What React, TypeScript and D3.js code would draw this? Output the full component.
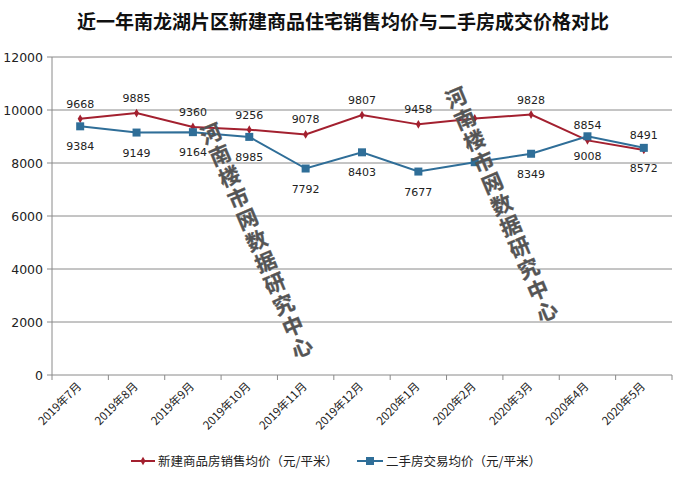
import React from "react";
import * as d3 from "d3";

const categories = ["2019年7月","2019年8月","2019年9月","2019年10月","2019年11月","2019年12月","2020年1月","2020年2月","2020年3月","2020年4月","2020年5月"];
const newHomePrice = [9668, 9885, 9360, 9256, 9078, 9807, 9458, 9680, 9828, 8854, 8491];
const resalePrice = [9384, 9149, 9164, 8985, 7792, 8403, 7677, 8030, 8349, 9008, 8572];
const showLabel = [true, true, true, true, true, true, true, false, true, true, true];
const yTicks = [0, 2000, 4000, 6000, 8000, 10000, 12000];
const seriesNames = ["新建商品房销售均价（元/平米）", "二手房交易均价（元/平米）"];
const titleText = "近一年南龙湖片区新建商品住宅销售均价与二手房成交价格对比";
const watermarkText = "河南楼市网数据研究中心";

const W = 683, H = 480;
const left = 52, right = 672, top = 57, bottom = 375;
const RED = "#A3202F";
const BLUE = "#2F6E98";
const FONT = "'DejaVu Sans', 'Noto Sans CJK SC', sans-serif";
const CJK = "'Noto Sans CJK SC', sans-serif";

export default function App() {
  const x = d3.scaleBand<string>().domain(categories).range([left, right]);
  const y = d3.scaleLinear().domain([0, 12000]).range([bottom, top]);
  const cx = (i: number) => (x(categories[i]) as number) + x.bandwidth() / 2;
  const line = d3.line<number>().x((_, i) => cx(i)).y((d) => y(d));
  const boundaries = d3.range(categories.length + 1).map((i) => left + i * x.bandwidth());
  const diamond = d3.symbol().type(d3.symbolDiamond).size(22)();

  const wm = (x0: number, y0: number) => (
    <text
      x={x0}
      y={y0}
      transform={`rotate(-23 ${x0} ${y0})`}
      style={{ writingMode: "vertical-rl" as any }}
      fontFamily={CJK}
      fontWeight={700}
      fontSize={21}
      fill="#555555"
      stroke="#555555"
      strokeWidth={0.3}
      letterSpacing={2.2}
    >
      {watermarkText}
    </text>
  );

  return (
    <svg width={W} height={H} style={{ position: "absolute", left: 0, top: 0, background: "#fff" }}>
      <text x={343} y={29} textAnchor="middle" fontFamily={CJK} fontWeight={700} fontSize={19} fill="#111">
        {titleText}
      </text>
      {yTicks.map((t) => (
        <g key={t}>
          {t > 0 && <line x1={left} x2={right} y1={y(t)} y2={y(t)} stroke="#8a8a8a" strokeWidth={1} />}
          <line x1={left - 5} x2={left} y1={y(t)} y2={y(t)} stroke="#8a8a8a" />
          <text x={left - 9} y={y(t) + 4.5} textAnchor="end" fontFamily={FONT} fontSize={12.5} fill="#222">
            {t}
          </text>
        </g>
      ))}
      <line x1={left} x2={left} y1={top} y2={bottom} stroke="#8a8a8a" />
      <line x1={left} x2={right} y1={bottom} y2={bottom} stroke="#8a8a8a" />
      {boundaries.map((b, i) => (
        <line key={i} x1={b} x2={b} y1={bottom} y2={bottom + 5} stroke="#8a8a8a" />
      ))}
      {categories.map((c, i) => (
        <text
          key={c}
          x={cx(i) + 2}
          y={bottom + 12}
          transform={`rotate(-45 ${cx(i) + 2} ${bottom + 12})`}
          textAnchor="end"
          fontFamily={CJK}
          fontSize={11.5}
          fill="#222"
        >
          {c}
        </text>
      ))}
      <path d={line(newHomePrice) as string} fill="none" stroke={RED} strokeWidth={2} />
      <path d={line(resalePrice) as string} fill="none" stroke={BLUE} strokeWidth={2} />
      {newHomePrice.map((v, i) => (
        <path key={"r" + i} d={diamond as string} transform={`translate(${cx(i)},${y(v)})`} fill={RED} />
      ))}
      {resalePrice.map((v, i) => (
        <rect key={"b" + i} x={cx(i) - 4} y={y(v) - 4} width={8} height={8} fill={BLUE} />
      ))}
      {newHomePrice.map((v, i) =>
        showLabel[i] ? (
          <text key={"rl" + i} x={cx(i)} y={y(v) - 11} textAnchor="middle" fontFamily={FONT} fontSize={11} fill="#222">
            {v}
          </text>
        ) : null
      )}
      {resalePrice.map((v, i) =>
        showLabel[i] ? (
          <text key={"bl" + i} x={cx(i)} y={y(v) + 24} textAnchor="middle" fontFamily={FONT} fontSize={11} fill="#222">
            {v}
          </text>
        ) : null
      )}
      {wm(207, 124)}
      {wm(452, 88)}
      <line x1={131} x2={155} y1={461} y2={461} stroke={RED} strokeWidth={2} />
      <path d={diamond as string} transform="translate(143,461)" fill={RED} />
      <text x={158} y={465.5} fontFamily={CJK} fontSize={12.5} fill="#222">{seriesNames[0]}</text>
      <line x1={357} x2={383} y1={461} y2={461} stroke={BLUE} strokeWidth={2} />
      <rect x={366} y={457} width={8} height={8} fill={BLUE} />
      <text x={386} y={465.5} fontFamily={CJK} fontSize={12.5} fill="#222">{seriesNames[1]}</text>
    </svg>
  );
}
